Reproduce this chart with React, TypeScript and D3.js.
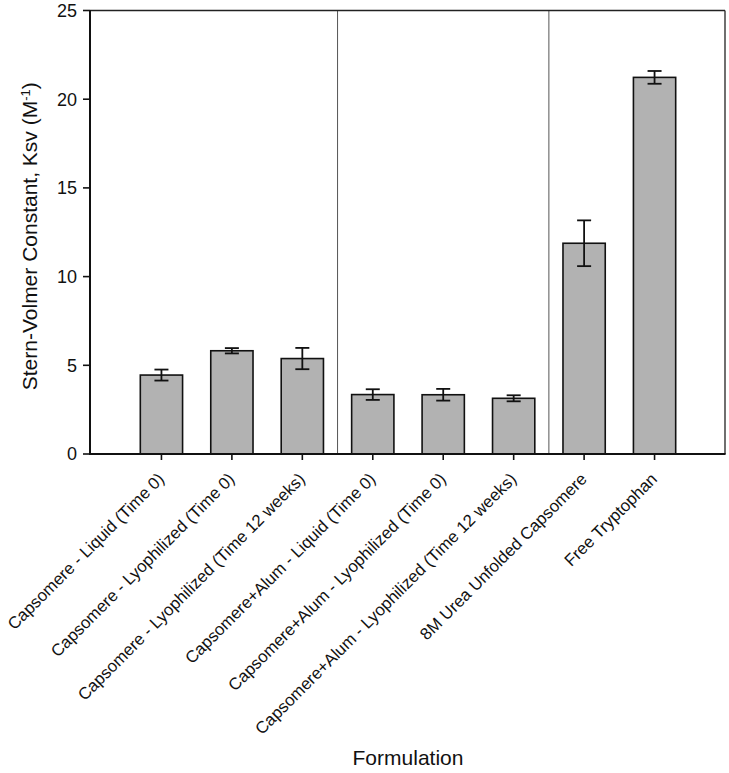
import React from "react";
import * as d3 from "d3";

const categories = [
  "Capsomere - Liquid (Time 0)",
  "Capsomere - Lyophilized (Time 0)",
  "Capsomere - Lyophilized (Time 12 weeks)",
  "Capsomere+Alum - Liquid (Time 0)",
  "Capsomere+Alum - Lyophilized (Time 0)",
  "Capsomere+Alum - Lyophilized (Time 12 weeks)",
  "8M Urea Unfolded Capsomere",
  "Free Tryptophan",
];
const values = [4.45, 5.82, 5.38, 3.35, 3.34, 3.14, 11.88, 21.23];
const errors = [0.31, 0.15, 0.6, 0.3, 0.33, 0.17, 1.29, 0.36];
const yTicks = [0, 5, 10, 15, 20, 25];
const separators = [3.5, 6.5];

const W = 729;
const H = 773;
const left = 90;
const right = 725;
const top = 10.5;
const bottom = 454;

export default function App() {
  const x = d3.scaleLinear().domain([0, 9]).range([left + 1, right]);
  const y = d3.scaleLinear().domain([0, 25]).range([bottom, top]);
  const step = x(1) - x(0);
  const bw = step * 0.6;
  const font = "Arial, 'Liberation Sans', sans-serif";

  return (
    <svg
      width={W}
      height={H}
      style={{ position: "absolute", left: 0, top: 0, background: "#fff" }}
      fontFamily={font}
    >
      {/* separators */}
      {separators.map((s, i) => (
        <line key={i} x1={x(s)} x2={x(s)} y1={top} y2={bottom} stroke="#555" strokeWidth={1} />
      ))}
      {/* bars */}
      {values.map((v, i) => (
        <rect
          key={i}
          x={x(i + 1) - bw / 2}
          y={y(v)}
          width={bw}
          height={bottom - y(v)}
          fill="#b2b2b2"
          stroke="#111"
          strokeWidth={1.6}
        />
      ))}
      {/* error bars */}
      {values.map((v, i) => {
        const cx = x(i + 1);
        const y1 = y(v + errors[i]);
        const y2 = y(v - errors[i]);
        return (
          <g key={i} stroke="#111" strokeWidth={1.8}>
            <line x1={cx} x2={cx} y1={y1} y2={y2} />
            <line x1={cx - 7} x2={cx + 7} y1={y1} y2={y1} />
            <line x1={cx - 7} x2={cx + 7} y1={y2} y2={y2} />
          </g>
        );
      })}
      {/* frame */}
      <line x1={left} x2={right} y1={top} y2={top} stroke="#222" strokeWidth={1.3} />
      <line x1={right} x2={right} y1={top} y2={bottom} stroke="#222" strokeWidth={1.3} />
      <line x1={left} x2={left} y1={top - 0.6} y2={bottom + 1} stroke="#111" strokeWidth={2} />
      <line x1={left - 1} x2={right + 0.6} y1={bottom} y2={bottom} stroke="#111" strokeWidth={2} />
      {/* y ticks */}
      {yTicks.map((t) => (
        <g key={t}>
          <line x1={left - 7} x2={left} y1={y(t)} y2={y(t)} stroke="#111" strokeWidth={1.6} />
          <text x={left - 13} y={y(t)} dy="0.36em" textAnchor="end" fontSize={18} fill="#111">
            {t}
          </text>
        </g>
      ))}
      {/* x ticks and labels */}
      {categories.map((c, i) => {
        const cx = x(i + 1);
        return (
          <g key={i}>
            <line x1={cx} x2={cx} y1={bottom} y2={bottom + 6} stroke="#111" strokeWidth={1.6} />
            <text
              transform={`translate(${cx - 0.5},${bottom + 22}) rotate(-45)`}
              textAnchor="end"
              dy="0.35em"
              fontSize={16.8}
              fill="#111"
            >
              {c}
            </text>
          </g>
        );
      })}
      {/* axis titles */}
      <text
        transform={`translate(37,${(top + bottom) / 2 + 4}) rotate(-90)`}
        textAnchor="middle"
        fontSize={21}
        fill="#111"
      >
        Stern-Volmer Constant, Ksv (M
        <tspan baselineShift="super" fontSize={13}>-1</tspan>)
      </text>
      <text x={408} y={765} textAnchor="middle" fontSize={21} fill="#111">
        Formulation
      </text>
    </svg>
  );
}
